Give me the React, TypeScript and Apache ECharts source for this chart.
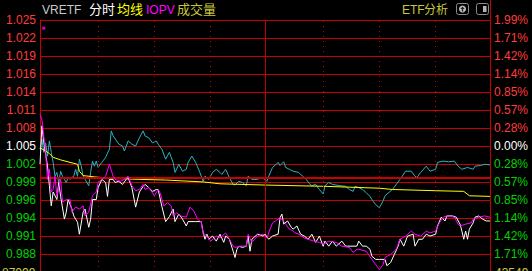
import React, { useEffect, useRef } from 'react';
import * as echarts from 'echarts';

// ---- data (minute index 0..240, price) ----
const leftLabels = ['1.025', '1.022', '1.019', '1.016', '1.014', '1.011', '1.008', '1.005', '1.002', '0.999', '0.996', '0.994', '0.991', '0.988', '0.985'];
const rightLabels = ['1.99%', '1.71%', '1.42%', '1.14%', '0.85%', '0.57%', '0.28%', '0.00%', '0.28%', '0.57%', '0.85%', '1.14%', '1.42%', '1.71%', '1.99%'];
const PRICE_MIN = 0.985;
const PRICE_MAX = 1.025;
const PRE_CLOSE = 1.005;
const dottedMinutes = [31, 61, 91, 151, 181, 211];
const middleMinute = 120;

const priceLine = [
  [0, 1.0021], [1, 1.0082], [2, 1.0056], [4, 1.0018], [5, 0.9987], [6, 0.9955], [7, 0.9977], [9, 0.9965], [10, 0.9992], [11, 0.997],
  [13, 0.9934], [14, 0.9945], [15, 0.9965], [17, 0.995], [18, 0.9939], [20, 0.9929], [21, 0.991], [23, 0.9945], [24, 0.995], [26, 0.9921],
  [27, 0.9934], [28, 0.9965], [30, 0.9965], [31, 0.9984], [33, 0.9997], [35, 0.9992], [36, 0.997], [37, 0.9997], [39, 0.9997], [40, 0.9992],
  [42, 0.9994], [44, 0.9989], [46, 0.9997], [47, 1.0], [49, 0.9984], [51, 0.9953], [53, 0.9977], [55, 0.9986], [56, 0.9989], [58, 0.9984],
  [60, 0.9978], [62, 0.9981], [63, 0.9981], [65, 0.9954], [67, 0.993], [69, 0.9938], [71, 0.995], [72, 0.993], [74, 0.9942], [76, 0.9934],
  [78, 0.9923], [79, 0.993], [83, 0.993], [86, 0.993], [87, 0.9913], [88, 0.9902], [89, 0.991], [90, 0.9902], [92, 0.9907], [94, 0.9899],
  [96, 0.991], [98, 0.9897], [99, 0.9907], [101, 0.9902], [103, 0.9883], [104, 0.9873], [105, 0.9886], [106, 0.9891], [108, 0.9889], [110, 0.9891],
  [111, 0.9907], [112, 0.9883], [113, 0.9902], [116, 0.991], [119, 0.9907], [120, 0.991], [122, 0.9902], [124, 0.9907], [127, 0.991], [128, 0.9936],
  [129, 0.9942], [130, 0.9926], [132, 0.9931], [134, 0.9921], [135, 0.9918], [137, 0.9923], [139, 0.991], [141, 0.9907], [143, 0.9902], [145, 0.991],
  [147, 0.9897], [149, 0.9907], [151, 0.9891], [152, 0.9899], [154, 0.9891], [156, 0.9899], [158, 0.9891], [161, 0.9899], [163, 0.9891], [169, 0.9891],
  [170, 0.9899], [172, 0.9891], [174, 0.9891], [176, 0.9886], [177, 0.9875], [179, 0.987], [181, 0.987], [184, 0.987], [185, 0.986], [187, 0.9865],
  [189, 0.9878], [191, 0.9891], [192, 0.9902], [194, 0.9891], [196, 0.9907], [199, 0.991], [200, 0.9891], [202, 0.9902], [204, 0.9902], [206, 0.991],
  [208, 0.9907], [211, 0.991], [212, 0.9923], [214, 0.9937], [216, 0.9931], [217, 0.9939], [220, 0.9939], [222, 0.9937], [224, 0.9926], [225, 0.9915],
  [226, 0.9902], [227, 0.9915], [228, 0.9902], [229, 0.9918], [231, 0.9928], [232, 0.9937], [234, 0.9939], [236, 0.9934], [238, 0.9931], [240, 0.9931],
];

const iopvLine = [
  [0, 1.01], [1, 1.0092], [3, 1.004], [4, 0.9997], [5, 1.0013], [6, 0.9977], [7, 0.9981], [8, 1.0002], [9, 0.9971], [11, 0.9997],
  [12, 0.9961], [14, 0.9965], [16, 0.9965], [17, 0.9945], [19, 0.9953], [21, 0.995], [23, 0.9955], [24, 0.9939], [26, 0.9945], [28, 0.9971],
  [30, 0.9977], [31, 0.9992], [33, 0.9997], [35, 1.0002], [37, 1.0021], [39, 1.0002], [40, 0.9997], [43, 0.9994], [45, 0.9997], [47, 1.0002],
  [49, 0.9987], [51, 0.9979], [53, 0.9981], [55, 0.9989], [56, 0.9981], [58, 0.9984], [61, 0.9971], [63, 0.9981], [64, 0.9976], [66, 0.9955],
  [68, 0.996], [70, 0.9955], [71, 0.9939], [73, 0.9944], [75, 0.9939], [78, 0.9937], [80, 0.9953], [82, 0.9947], [84, 0.9934], [86, 0.9929],
  [87, 0.991], [88, 0.991], [91, 0.9899], [94, 0.9907], [96, 0.9904], [99, 0.9912], [101, 0.9902], [103, 0.9891], [104, 0.9889], [107, 0.9891],
  [110, 0.9891], [111, 0.991], [113, 0.9897], [116, 0.9907], [119, 0.991], [121, 0.9904], [124, 0.9928], [127, 0.9934], [129, 0.9934], [131, 0.9926],
  [133, 0.9918], [135, 0.9915], [136, 0.9912], [138, 0.991], [141, 0.9904], [143, 0.9902], [146, 0.9899], [149, 0.9897], [151, 0.9894], [154, 0.9899],
  [158, 0.9897], [161, 0.9891], [165, 0.9889], [167, 0.9881], [169, 0.9886], [170, 0.9886], [174, 0.9883], [177, 0.987], [181, 0.9854], [183, 0.9862],
  [184, 0.9873], [187, 0.9878], [190, 0.9886], [192, 0.9902], [195, 0.9907], [198, 0.9915], [200, 0.991], [203, 0.9907], [206, 0.9915], [208, 0.9912],
  [211, 0.9915], [213, 0.9928], [215, 0.9937], [217, 0.9939], [221, 0.9937], [223, 0.9926], [224, 0.9923], [227, 0.9926], [230, 0.9928], [231, 0.9934],
  [234, 0.9937], [237, 0.9939], [240, 0.9937],
];

const cyanLine = [
  [0, 1.0045], [1, 1.0061], [2, 1.004], [3, 1.0055], [4, 1.0034], [5, 1.0058], [6, 1.004], [7, 1.0024], [8, 1.0002], [9, 1.0008],
  [10, 0.9992], [11, 1.001], [12, 1.0002], [13, 0.9997], [14, 0.9992], [15, 1.0], [16, 0.9997], [17, 1.0], [18, 1.0002], [19, 1.0013],
  [20, 1.0002], [21, 1.0029], [22, 1.0018], [23, 1.0002], [24, 0.9997], [26, 0.9987], [27, 1.0008], [28, 1.0026], [29, 1.0018], [30, 1.0026],
  [31, 1.0016], [33, 1.0024], [35, 1.0032], [37, 1.0045], [38, 1.0074], [39, 1.0066], [42, 1.0053], [44, 1.005], [45, 1.0042], [47, 1.0058],
  [49, 1.0053], [51, 1.005], [53, 1.0063], [55, 1.0074], [56, 1.0066], [58, 1.0063], [60, 1.0055], [62, 1.0058], [63, 1.0053], [65, 1.0045],
  [67, 1.0029], [69, 1.004], [71, 1.0024], [72, 1.0008], [74, 1.0021], [76, 1.001], [78, 1.0013], [79, 1.0024], [81, 1.0034], [83, 1.0024],
  [85, 1.001], [87, 0.9994], [88, 1.0002], [90, 0.9997], [92, 1.0008], [94, 1.0013], [96, 1.0008], [97, 1.0005], [99, 1.0013], [101, 1.0],
  [103, 0.9989], [104, 0.9988], [106, 0.9994], [108, 0.9992], [110, 0.9987], [111, 1.0002], [113, 0.9997], [116, 0.9997], [118, 1.0], [120, 0.9997],
  [121, 0.9994], [122, 1.0002], [124, 1.0016], [126, 1.0021], [127, 1.0024], [128, 1.0019], [130, 1.0025], [131, 1.0016], [133, 1.0013], [135, 1.001],
  [138, 1.0008], [140, 1.0002], [142, 0.9997], [144, 0.9989], [145, 0.9987], [147, 0.9989], [149, 0.9981], [151, 0.9974], [152, 0.9987], [154, 0.9992],
  [156, 0.9989], [160, 0.9987], [163, 0.9986], [165, 0.9981], [167, 0.9978], [168, 0.9986], [170, 0.9984], [172, 0.9981], [174, 0.9976], [176, 0.997],
  [177, 0.9965], [179, 0.9957], [181, 0.9952], [183, 0.9963], [184, 0.9971], [188, 0.9981], [192, 0.9997], [195, 1.001], [198, 1.001], [200, 1.0002],
  [201, 1.0], [203, 1.0008], [206, 1.0018], [208, 1.001], [211, 1.0013], [212, 1.0024], [215, 1.0026], [218, 1.0025], [221, 1.0026], [223, 1.0018],
  [225, 1.0013], [228, 1.0016], [231, 1.0013], [232, 1.0018], [235, 1.0019], [237, 1.0021], [240, 1.002],
];

const avgLine = [
  [0, 1.0047], [3, 1.0042], [5, 1.0038], [7, 1.0032], [11, 1.0028], [16, 1.0024], [20, 1.0021], [21, 1.001], [23, 1.0003], [29, 1.0001],
  [36, 0.9999], [53, 0.9997], [67, 0.9996], [80, 0.9994], [87, 0.9993], [96, 0.999], [120, 0.9988], [152, 0.9986], [181, 0.9983], [188, 0.9981],
  [211, 0.9979], [226, 0.9978], [229, 0.9971], [240, 0.997],
];

const iopvMarker = [[2, 1.0237]];

const volumeLeftLabel = '87099';
const volumeRightLabel = '43549';

// ---- styles ----
const RED_GRID = '#c80000';
const RED_TEXT = '#ff3c3c';
const GREEN_TEXT = '#00d200';
const WHITE = '#ffffff';
const CYAN = '#28b4c0';
const YELLOW = '#ffff00';
const MAGENTA = '#ff00ff';
const OLIVE = '#c8c83c';
const NUM_FONT = "'Liberation Sans', sans-serif";
const HEAD_FONT = "'Liberation Sans', 'Noto Sans CJK SC', sans-serif";

const labelColor = (v: any) => {
  const n = Number(v);
  if (n > 0) return RED_TEXT;
  if (n < 0) return GREEN_TEXT;
  return WHITE;
};

export default function App() {
  const ref = useRef<HTMLDivElement>(null);
  useEffect(() => {
    if (!ref.current) return;
    const chart = echarts.init(ref.current, undefined, { renderer: 'svg' });
    const headText = (x: number, text: string, fill: string, size: number) => ({
      type: 'text',
      left: x,
      top: size === 12 ? 4 : 3,
      style: { text, fill, font: `${size}px ${HEAD_FONT}` },
      silent: true,
    });
    chart.setOption({
      animation: false,
      backgroundColor: '#000000',
      grid: { left: 40, top: 20, width: 450, height: 252, containLabel: false },
      xAxis: {
        type: 'value',
        min: 0,
        max: 240,
        show: false,
      },
      yAxis: [
        { type: 'value', min: PRICE_MIN, max: PRICE_MAX, show: false },
        {
          type: 'value',
          position: 'left',
          min: -7,
          max: 7,
          interval: 1,
          axisLine: { show: true, lineStyle: { color: RED_GRID, width: 1 } },
          axisTick: { show: false },
          splitLine: { show: true, lineStyle: { color: RED_GRID, width: 1 } },
          axisLabel: {
            margin: 4,
            fontSize: 12,
            fontFamily: NUM_FONT,
            color: labelColor,
            formatter: (v: number) => (v === -7 ? '' : leftLabels[7 - v]),
          },
        },
        {
          type: 'value',
          position: 'right',
          min: -7,
          max: 7,
          interval: 1,
          axisLine: { show: true, lineStyle: { color: RED_GRID, width: 1 } },
          axisTick: { show: false },
          splitLine: { show: false },
          axisLabel: {
            margin: 4,
            fontSize: 12,
            fontFamily: NUM_FONT,
            color: labelColor,
            formatter: (v: number) => (v === -7 ? '' : rightLabels[7 - v]),
          },
        },
      ],
      series: [
        {
          type: 'line',
          name: 'index',
          yAxisIndex: 0,
          data: cyanLine,
          symbol: 'none',
          lineStyle: { color: CYAN, width: 1 },
          z: 3,
          markLine: {
            silent: true,
            symbol: 'none',
            label: { show: false },
            animation: false,
            data: [
              ...dottedMinutes.map((m) => ({ xAxis: m, lineStyle: { color: RED_GRID, width: 1, type: [1, 4] } })),
              { xAxis: middleMinute, lineStyle: { color: RED_GRID, width: 1, type: 'solid' } },
              { yAxis: PRE_CLOSE, lineStyle: { color: RED_GRID, width: 2, type: 'solid' } },
            ],
          },
        },
        {
          type: 'line',
          name: '均线',
          yAxisIndex: 0,
          data: avgLine,
          symbol: 'none',
          lineStyle: { color: YELLOW, width: 1 },
          z: 4,
        },
        {
          type: 'line',
          name: '分时',
          yAxisIndex: 0,
          data: priceLine,
          symbol: 'none',
          lineStyle: { color: WHITE, width: 1 },
          z: 5,
        },
        {
          type: 'line',
          name: 'IOPV',
          yAxisIndex: 0,
          data: iopvLine,
          symbol: 'none',
          lineStyle: { color: MAGENTA, width: 1 },
          z: 6,
        },
        {
          type: 'scatter',
          yAxisIndex: 0,
          data: iopvMarker,
          symbol: 'rect',
          symbolSize: 3,
          itemStyle: { color: MAGENTA },
          z: 7,
        },
      ],
      graphic: [
        headText(42, 'VRETF', '#c8c8c8', 12),
        headText(89, '分时', WHITE, 13),
        headText(117, '均线', YELLOW, 13),
        headText(146, 'IOPV', MAGENTA, 12),
        headText(177, '成交量', OLIVE, 13),
        headText(402, 'ETF', OLIVE, 12),
        headText(424, '分析', OLIVE, 12),
        {
          type: 'line',
          shape: { x1: 490.5, y1: 0, x2: 490.5, y2: 20 },
          style: { stroke: RED_GRID, lineWidth: 1 },
          silent: true,
        },
        {
          type: 'rect',
          shape: { x: 456.5, y: 3.5, width: 12, height: 11, r: 2 },
          style: { stroke: '#8c8c8c', fill: 'none', lineWidth: 1 },
          silent: true,
        },
        {
          type: 'circle',
          shape: { cx: 462.5, cy: 9, r: 3.5 },
          style: { fill: '#c0c0c0' },
          silent: true,
        },
        {
          type: 'polygon',
          shape: { points: [[462.5, 6.5], [460.3, 9], [464.7, 9]] },
          style: { fill: '#202020' },
          silent: true,
        },
        {
          type: 'rect',
          shape: { x: 461.8, y: 9, width: 1.4, height: 2.5 },
          style: { fill: '#202020' },
          silent: true,
        },
        {
          type: 'rect',
          shape: { x: 476.5, y: 3.5, width: 12, height: 11, r: 2 },
          style: { stroke: '#8c8c8c', fill: 'none', lineWidth: 1 },
          silent: true,
        },
        {
          type: 'rect',
          shape: { x: 483, y: 6, width: 3.5, height: 6 },
          style: { fill: '#b4b4b4' },
          silent: true,
        },
        {
          type: 'text',
          left: 2,
          top: 267,
          style: { text: volumeLeftLabel, fill: OLIVE, font: `12px ${NUM_FONT}` },
          silent: true,
        },
        {
          type: 'text',
          left: 495,
          top: 267,
          style: { text: volumeRightLabel, fill: OLIVE, font: `12px ${NUM_FONT}` },
          silent: true,
        },
      ],
    });
    return () => chart.dispose();
  }, []);
  return (
    <div
      ref={ref}
      style={{ position: 'fixed', left: 0, top: 0, width: 532, height: 300, background: '#000' }}
    />
  );
}
